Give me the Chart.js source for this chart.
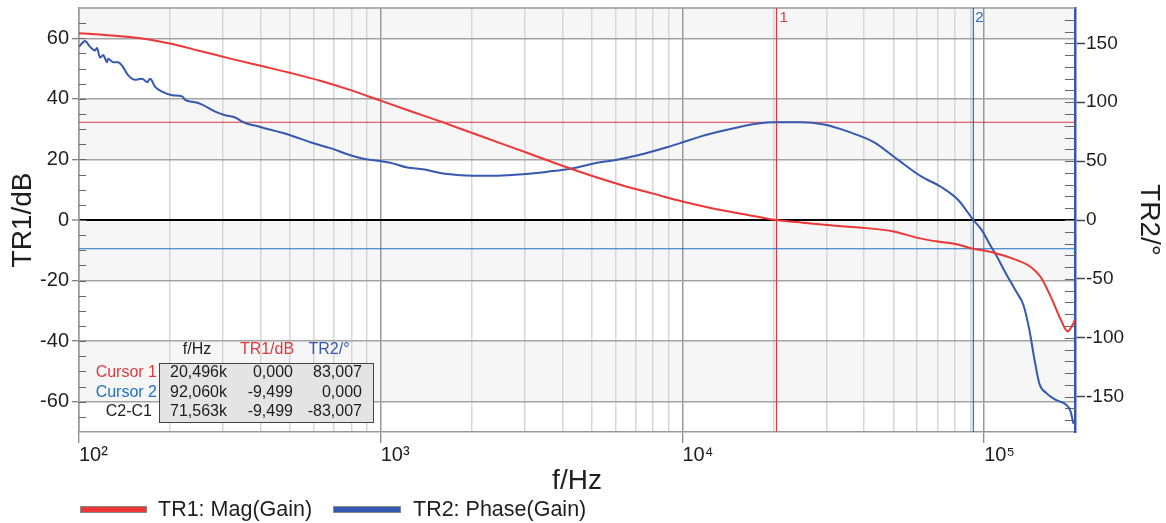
<!DOCTYPE html>
<html><head><meta charset="utf-8">
<script src="https://cdn.jsdelivr.net/npm/chart.js@4.4.1/dist/chart.umd.min.js"></script>
<style>html,body{margin:0;padding:0;background:#fff;}#wrap{width:1166px;height:523px;position:relative;}</style>
</head><body><div id="wrap"><canvas id="c" width="1166" height="523"></canvas></div>
<script>
// ---------- data ----------
const magFreqHz = [100, 125, 160, 200, 250, 320, 400, 500, 630, 800, 1000, 1250, 1600, 2000, 2500, 3150, 4000, 5000, 6300, 8000, 10000, 12500, 16000, 20496, 25000, 31500, 40000, 50100, 60170, 70120, 80460, 92060, 100000, 122400, 142700, 153900, 166200, 179400, 189200, 196600, 199700];
const magDb = [61.7, 61.0, 60.0, 58.3, 55.9, 53.2, 50.9, 48.6, 46.0, 42.8, 39.4, 36.0, 32.3, 28.8, 25.3, 21.7, 17.9, 14.6, 11.5, 8.7, 6.1, 3.9, 1.9, 0.0, -0.9, -1.8, -2.6, -3.8, -5.9, -7.1, -7.9, -9.5, -10.1, -12.5, -15.5, -18.8, -25.3, -32.9, -36.8, -34.5, -33.0];

const phaseFreqHz = [100, 100.8, 104.7, 108.8, 113, 114.7, 117.4, 120.2, 123.9, 124.8, 129.7, 134.7, 138.9, 145.4, 153.4, 161.9, 168.2, 172.1, 178.8, 188.6, 203.5, 219.8, 224.8, 242.7, 255.9, 282.8, 305.3, 329.5, 350.3, 398.7, 501.5, 584.6, 681, 793, 876, 998, 1077, 1226, 1284, 1375, 1665, 2015, 2439, 3022, 3575, 4262, 5082, 6012, 7112, 8945, 10030, 11510, 13720, 17800, 20496, 24720, 29460, 35400, 43180, 51870, 61840, 72060, 82040, 92060, 97810, 105600, 108000, 118400, 127800, 134800, 141100, 146700, 152400, 160700, 173500, 187300, 193100, 197600];
const phaseDeg = [147, 148, 152, 147, 144, 146, 138, 140, 134, 137, 134, 134, 131, 123, 119, 120, 117, 120, 113, 109, 106, 105, 102, 100, 98, 92, 89, 87, 83, 79, 72, 66, 61, 55, 52, 50, 48.6, 44.5, 44, 43, 39, 37.6, 37.6, 39, 41, 43.5, 48, 51, 55, 62, 66, 71, 76, 82, 83.007, 83, 81, 75, 66, 51, 37, 28, 17, 0, -8, -23, -27, -46, -61, -72, -93, -118, -139, -147, -153, -157, -162, -173];

const xTickValues = [100, 1000, 10000, 100000];
const xTickLabels = ['10²', '10³', '10⁴', '10⁵'];
const yLeftTicks = [-60, -40, -20, 0, 20, 40, 60];
const yRightTicks = [-150, -100, -50, 0, 50, 100, 150];

const seriesNames = ['TR1: Mag(Gain)', 'TR2: Phase(Gain)'];
const cursorRowNames = ['Cursor 1', 'Cursor 2', 'C2-C1'];
const cursorHeader = ['f/Hz', 'TR1/dB', 'TR2/°'];
const cursorFreqText = ['20,496k', '92,060k', '71,563k'];
const cursorTR1Text = ['0,000', '-9,499', '-9,499'];
const cursorTR2Text = ['83,007', '0,000', '-83,007'];
const cursorFreqHz = [20496, 92060];
const cursorTR1 = [0, -9.499];
const cursorTR2 = [83.007, 0];

// ---------- styles ----------
const FONT = "'Liberation Sans', Arial, sans-serif";
const RED = '#ef3636';
const BLUE = '#3558b0';
const CUR_RED = '#dd3a40';
const CUR_BLUE = '#1f6fc0';
const TXT = '#1e1e1e';

const gridValues = [];
for (const d of [100, 1000, 10000, 100000]) for (let m = 1; m <= 9; m++) { if (d * m <= 200000) gridValues.push(d * m); }
const isDecade = v => xTickValues.includes(v);

function seg(ctx, x1, y1, x2, y2) { ctx.beginPath(); ctx.moveTo(x1, y1); ctx.lineTo(x2, y2); ctx.stroke(); }

const deco = {
  id: 'deco',
  beforeDraw(chart) {
    const {ctx, chartArea: a, scales: {y}} = chart;
    ctx.save();
    ctx.fillStyle = '#fff'; ctx.fillRect(0, 0, chart.width, chart.height);
    ctx.fillStyle = '#f6f6f6';
    for (const [lo, hi] of [[60, 70], [20, 40], [-20, 0], [-60, -40]]) {
      const t = y.getPixelForValue(hi), b = y.getPixelForValue(lo);
      ctx.fillRect(a.left, t, a.right - a.left, b - t);
    }
    ctx.restore();
  },
  beforeDatasetsDraw(chart) {
    const {ctx, chartArea: a, scales: {x, y, y2}} = chart;
    ctx.save();
    ctx.strokeStyle = '#9a9a9a'; ctx.lineWidth = 1.5;
    seg(ctx, a.left, a.top, a.right, a.top);
    ctx.strokeStyle = '#666'; ctx.lineWidth = 1;
    for (let v = -65; v <= 65; v += 5) { const p = Math.round(y.getPixelForValue(v)) + 0.5; seg(ctx, a.left, p, a.left + 7, p); }
    for (let v = -170; v <= 170; v += 10) { const p = Math.round(y2.getPixelForValue(v)) + 0.5; seg(ctx, a.right - 10, p, a.right, p); }
    // cursors
    ctx.lineWidth = 1.2;
    ctx.strokeStyle = CUR_RED;
    let px = x.getPixelForValue(cursorFreqHz[0]); seg(ctx, px, a.top, px, a.bottom);
    let py = y2.getPixelForValue(cursorTR2[0]); seg(ctx, a.left, py, a.right, py);
    ctx.strokeStyle = CUR_BLUE;
    px = x.getPixelForValue(cursorFreqHz[1]); seg(ctx, px, a.top, px, a.bottom);
    py = y.getPixelForValue(cursorTR1[1]); seg(ctx, a.left, py, a.right, py);
    ctx.restore();
  },
  afterDraw(chart) {
    const {ctx, chartArea: a, scales: {x}} = chart;
    ctx.save();
    // cursor numbers
    ctx.font = '15px ' + FONT; ctx.textAlign = 'left'; ctx.textBaseline = 'middle';
    ctx.fillStyle = CUR_RED; ctx.fillText('1', x.getPixelForValue(cursorFreqHz[0]) + 3, 18);
    ctx.fillStyle = CUR_BLUE; ctx.fillText('2', x.getPixelForValue(cursorFreqHz[1]) + 2, 18);
    // cursor table
    ctx.font = '16px ' + FONT;
    ctx.textAlign = 'center'; ctx.fillStyle = TXT; ctx.fillText(cursorHeader[0], 197, 350);
    ctx.fillStyle = CUR_RED; ctx.fillText(cursorHeader[1], 267, 350);
    ctx.fillStyle = BLUE; ctx.fillText(cursorHeader[2], 329, 350);
    ctx.fillStyle = '#e4e4e4'; ctx.fillRect(159.5, 363.5, 214, 59);
    ctx.strokeStyle = '#444'; ctx.lineWidth = 1; ctx.strokeRect(159.5, 363.5, 214, 59);
    const rowY = [373, 392.5, 412];
    const rowCol = [CUR_RED, CUR_BLUE, TXT];
    for (let i = 0; i < 3; i++) {
      ctx.textAlign = 'right';
      ctx.fillStyle = rowCol[i]; ctx.fillText(cursorRowNames[i], i === 2 ? 152 : 157, rowY[i]);
      ctx.fillStyle = TXT;
      ctx.fillText(cursorFreqText[i], 227, rowY[i]);
      ctx.fillText(cursorTR1Text[i], 293, rowY[i]);
      ctx.fillText(cursorTR2Text[i], 362, rowY[i]);
    }
    // legend
    ctx.textAlign = 'left';
    ctx.font = '21.5px ' + FONT;
    const items = [[80, 67, RED, 158], [333, 68, BLUE, 413]];
    for (let i = 0; i < 2; i++) {
      const [sx, sw, col, tx] = items[i];
      ctx.fillStyle = col; ctx.fillRect(sx, 506, sw, 7);
      ctx.strokeStyle = '#888'; ctx.strokeRect(sx + 0.5, 506.5, sw - 1, 6);
      ctx.fillStyle = TXT; ctx.fillText(seriesNames[i], tx, 510);
    }
    ctx.restore();
  }
};

new Chart(document.getElementById('c'), {
  type: 'line',
  data: {
    datasets: [
      { label: seriesNames[0], data: magFreqHz.map((f, i) => ({x: f, y: magDb[i]})), yAxisID: 'y',
        borderColor: RED, borderWidth: 2, pointRadius: 0, cubicInterpolationMode: 'monotone', fill: false },
      { label: seriesNames[1], data: phaseFreqHz.map((f, i) => ({x: f, y: phaseDeg[i]})), yAxisID: 'y2',
        borderColor: BLUE, borderWidth: 2, pointRadius: 0, cubicInterpolationMode: 'monotone', fill: false }
    ]
  },
  options: {
    responsive: false, animation: false, devicePixelRatio: 1,
    layout: { padding: { top: 8, left: 0, right: 0, bottom: 0 } },
    plugins: { legend: { display: false }, tooltip: { enabled: false } },
    scales: {
      x: {
        type: 'logarithmic', min: 100, max: 200000, position: 'bottom',
        afterBuildTicks: s => { s.ticks = gridValues.map(v => ({value: v})); },
        afterFit: s => { s.height = 91; s.paddingLeft = 0; s.paddingRight = 0; },
        ticks: { autoSkip: false, maxRotation: 0, minRotation: 0, align: 'start', padding: 0, color: TXT,
          font: { family: FONT, size: 20 },
          callback: v => { const i = xTickValues.indexOf(v); return i >= 0 ? xTickLabels[i] : ''; } },
        grid: { color: c => isDecade(c.tick.value) ? '#9a9a9a' : '#d6d6d6', lineWidth: 1.5,
          tickColor: c => isDecade(c.tick.value) ? '#666' : 'rgba(0,0,0,0)', tickLength: 11, tickWidth: 1 },
        border: { color: '#999', width: 1.5 },
        title: { display: true, text: 'f/Hz', color: TXT, font: { family: FONT, size: 28 }, padding: { top: 0, bottom: 25 } }
      },
      y: {
        position: 'left', min: -70, max: 70,
        afterBuildTicks: s => { s.ticks = yLeftTicks.map(v => ({value: v})); },
        afterFit: s => { s.width = 79; s.paddingTop = 0; s.paddingBottom = 0; },
        ticks: { padding: 3, color: TXT, font: { family: FONT, size: 20 } },
        grid: { color: c => c.tick.value === 0 ? '#000' : '#a3a3a3', lineWidth: c => c.tick.value === 0 ? 2 : 1.5,
          tickColor: '#555', tickLength: 7, tickWidth: 1 },
        border: { color: '#999', width: 1.5 },
        title: { display: true, text: 'TR1/dB', color: TXT, font: { family: FONT, size: 28 }, padding: { top: 6, bottom: 0 } }
      },
      y2: {
        position: 'right', min: -180, max: 180,
        afterBuildTicks: s => { s.ticks = yRightTicks.map(v => ({value: v})); },
        afterFit: s => { s.width = 91; s.paddingTop = 0; s.paddingBottom = 0; },
        ticks: { padding: 1, color: TXT, font: { family: FONT, size: 19 } },
        grid: { drawOnChartArea: false, tickColor: '#444', tickLength: 10, tickWidth: 1.5 },
        border: { color: BLUE, width: 2.5 },
        title: { display: true, text: 'TR2/°', color: TXT, font: { family: FONT, size: 28 }, padding: { top: 0, bottom: 0 } }
      }
    }
  },
  plugins: [deco]
});
</script>
</body></html>
